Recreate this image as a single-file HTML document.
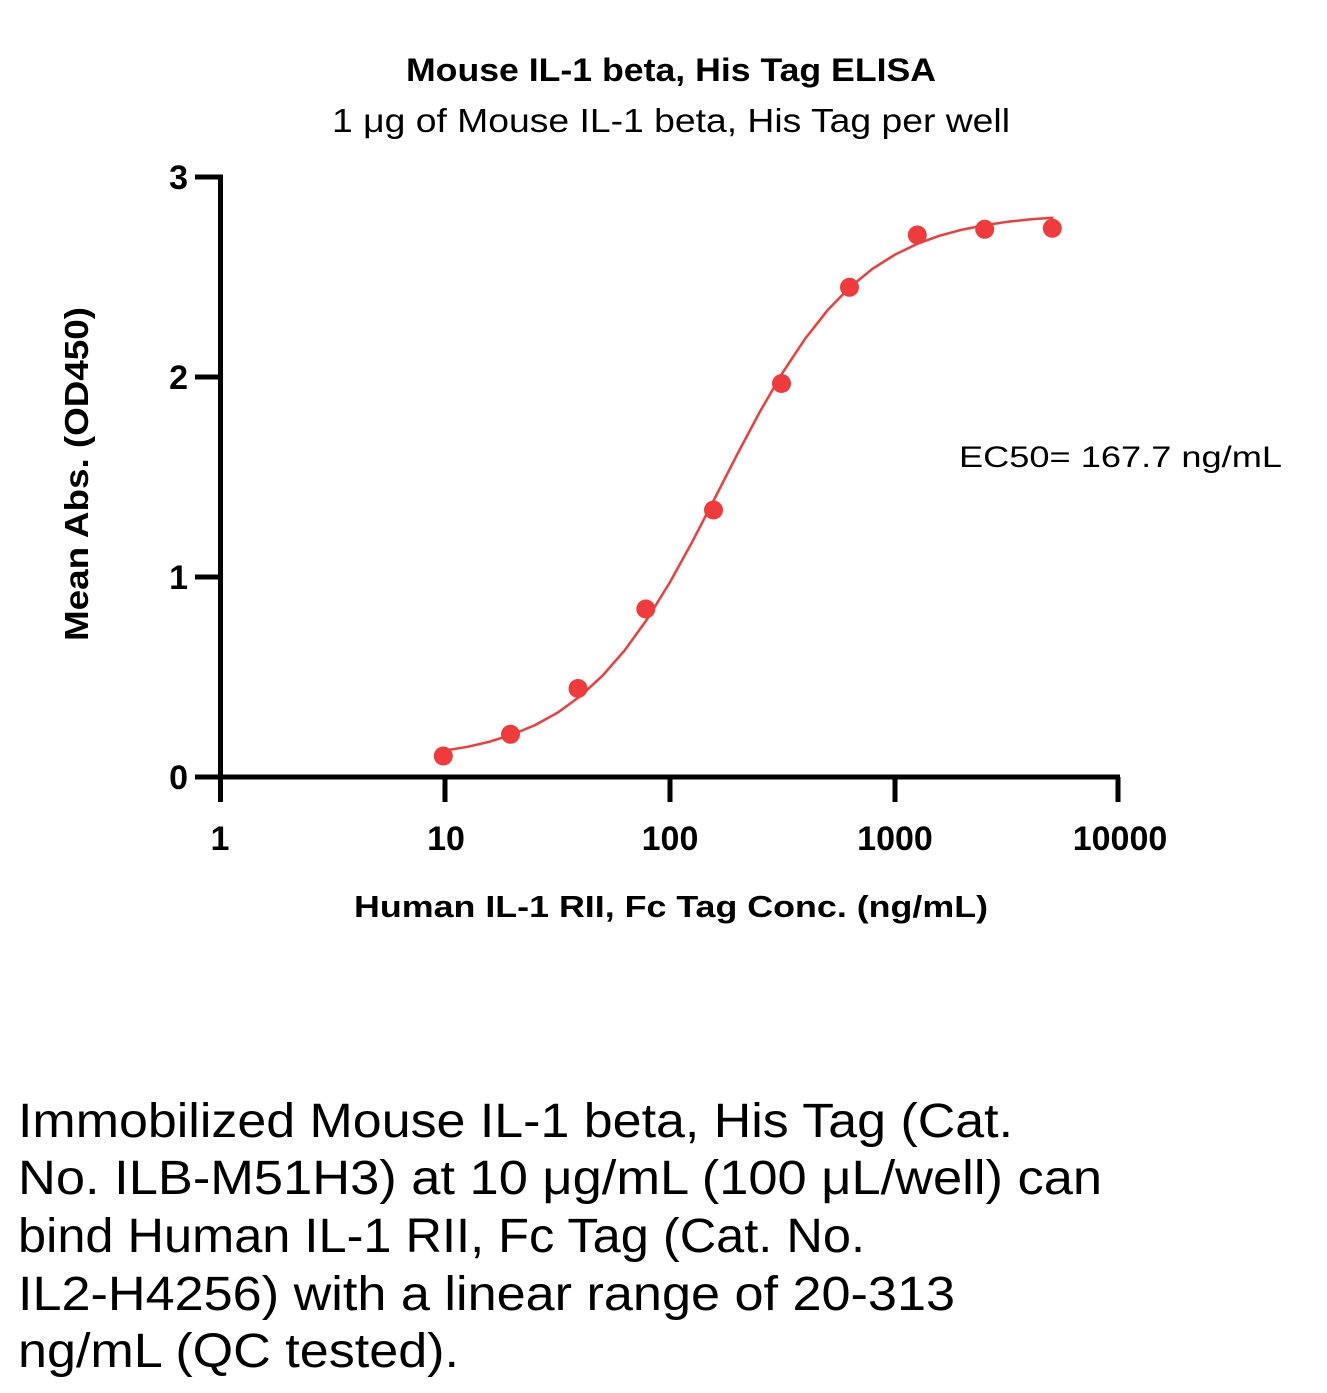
<!DOCTYPE html>
<html>
<head>
<meta charset="utf-8">
<style>
html,body{margin:0;padding:0;background:#fff;}
svg{display:block;}
text{font-family:"Liberation Sans", sans-serif; fill:#000;}
.b{font-weight:bold;}
</style>
</head>
<body>
<svg width="1327" height="1393" viewBox="0 0 1327 1393" xmlns="http://www.w3.org/2000/svg">
<rect width="1327" height="1393" fill="#fff"/>

<!-- Titles -->
<text class="b" x="406" y="81" font-size="32" textLength="530" lengthAdjust="spacingAndGlyphs">Mouse IL-1 beta, His Tag ELISA</text>
<text x="332" y="132" font-size="33" textLength="678" lengthAdjust="spacingAndGlyphs">1 μg of Mouse IL-1 beta, His Tag per well</text>

<!-- Axes -->
<g stroke="#000" stroke-width="5" fill="none">
  <line x1="220.5" y1="174.5" x2="220.5" y2="802"/>
  <line x1="195" y1="777" x2="1120" y2="777"/>
  <line x1="195" y1="177" x2="220" y2="177"/>
  <line x1="195" y1="377" x2="220" y2="377"/>
  <line x1="195" y1="577" x2="220" y2="577"/>
  <line x1="445" y1="777" x2="445" y2="802"/>
  <line x1="670" y1="777" x2="670" y2="802"/>
  <line x1="895" y1="777" x2="895" y2="802"/>
  <line x1="1118" y1="777" x2="1118" y2="802"/>
</g>

<!-- Y tick labels -->
<g font-size="34" text-anchor="end">
  <text class="b" x="188" y="189">3</text>
  <text class="b" x="188" y="389">2</text>
  <text class="b" x="188" y="589">1</text>
  <text class="b" x="188" y="789">0</text>
</g>

<!-- X tick labels -->
<g font-size="34" text-anchor="middle">
  <text class="b" x="220" y="850">1</text>
  <text class="b" x="446" y="850">10</text>
  <text class="b" x="670" y="850">100</text>
  <text class="b" x="895" y="850">1000</text>
  <text class="b" x="1120" y="850">10000</text>
</g>

<!-- Axis titles -->
<text class="b" x="354" y="917" font-size="31" textLength="634" lengthAdjust="spacingAndGlyphs">Human IL-1 RII, Fc Tag Conc. (ng/mL)</text>
<text class="b" transform="translate(88,641) rotate(-90)" x="0" y="0" font-size="33" textLength="334" lengthAdjust="spacingAndGlyphs">Mean Abs. (OD450)</text>

<!-- Curve -->
<polyline fill="none" stroke="#ee3d3d" stroke-width="2.5" stroke-linejoin="round" stroke-linecap="round"
points="442.75,750.9 467.5,746.8 490,741.6 512.5,734.5 535,725.1 557.5,712.7 580,696.4 602.5,675.7 625,649.9 647.5,618.6 670,582.1 692.5,541.3 715,497.8 737.5,453.8 760,411.5 782.5,372.8 805,338.9 827.5,310.3 850,287.1 872.5,268.8 895,254.6 917.5,243.7 940,235.6 962.5,229.6 985,225.1 1007.5,221.8 1030,219.4 1052.3,217.7"/>

<!-- Points -->
<g fill="#ef3b3b">
  <circle cx="443.3" cy="756" r="9.5"/>
  <circle cx="510.5" cy="734.3" r="9.5"/>
  <circle cx="578" cy="688.5" r="9.5"/>
  <circle cx="645.8" cy="609" r="9.5"/>
  <circle cx="713.5" cy="510" r="9.5"/>
  <circle cx="781.5" cy="383.5" r="9.5"/>
  <circle cx="849.5" cy="287.3" r="9.5"/>
  <circle cx="917.3" cy="235" r="9.5"/>
  <circle cx="984.7" cy="229.3" r="9.5"/>
  <circle cx="1052.3" cy="228.3" r="9.5"/>
</g>

<!-- EC50 -->
<text x="959" y="467" font-size="30" textLength="323" lengthAdjust="spacingAndGlyphs">EC50= 167.7 ng/mL</text>

<!-- Description -->
<g font-size="48">
  <text x="18" y="1137" textLength="995" lengthAdjust="spacingAndGlyphs">Immobilized Mouse IL-1 beta, His Tag (Cat.</text>
  <text x="18" y="1194" textLength="1084" lengthAdjust="spacingAndGlyphs">No. ILB-M51H3) at 10 μg/mL (100 μL/well) can</text>
  <text x="18" y="1252" textLength="847" lengthAdjust="spacingAndGlyphs">bind Human IL-1 RII, Fc Tag (Cat. No.</text>
  <text x="18" y="1310" textLength="937" lengthAdjust="spacingAndGlyphs">IL2-H4256) with a linear range of 20-313</text>
  <text x="18" y="1367" textLength="441" lengthAdjust="spacingAndGlyphs">ng/mL (QC tested).</text>
</g>
</svg>
</body>
</html>
